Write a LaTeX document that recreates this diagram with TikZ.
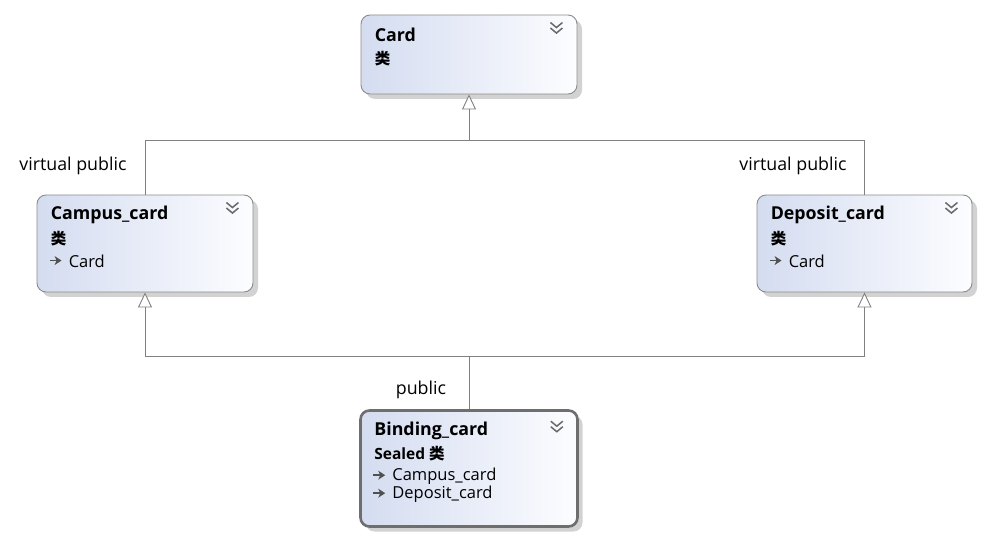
\documentclass[tikz,border=0pt]{standalone}
\usepackage{fontspec}
\setmainfont{Open Sans}
\newfontfamily\cjk{Noto Sans CJK SC}
\usetikzlibrary{arrows.meta,shadows}
\definecolor{boxleft}{RGB}{212,220,240}
\definecolor{boxright}{RGB}{252,253,255}
\definecolor{boxborder}{RGB}{140,140,140}
\definecolor{boldborder}{RGB}{110,110,110}
\definecolor{shadowgray}{RGB}{210,210,210}
\definecolor{linegray}{RGB}{128,128,128}
\definecolor{iconcol}{RGB}{80,80,80}
\begin{document}
\begin{tikzpicture}[x=1pt,y=-1pt,
  classbox/.style={rectangle, rounded corners=9pt, draw=boxborder, line width=0.9pt,
    left color=boxleft, right color=boxright, inner sep=0pt,
    drop shadow={shadow xshift=5pt, shadow yshift=-5pt, fill=shadowgray, opacity=1}},
  sealedbox/.style={classbox, draw=boldborder, line width=2.6pt},
  titletext/.style={anchor=west, inner sep=0pt, font=\fontsize{17.8}{20}\selectfont\bfseries},
  kindtext/.style={anchor=west, inner sep=0pt, font=\fontsize{15.5}{18}\selectfont\bfseries},
  cjktext/.style={anchor=west, inner sep=0pt, font=\fontsize{15.5}{18}\cjk\bfseries},
  membertext/.style={anchor=west, inner sep=0pt, font=\fontsize{16.5}{18}\selectfont},
  edgelabel/.style={inner sep=0pt, font=\fontsize{17.8}{20}\selectfont},
  conn/.style={draw=linegray, line width=0.9pt},
  inherit/.style={conn, -{Triangle[open, length=15pt, width=14pt, fill=white]}},
  memberarrow/.pic={\draw[line width=1.7pt, iconcol] (-6,0)--(2,0);
    \fill[iconcol] (-1,-4.5)--(6,0)--(-1,4.5)--(1,0)--cycle;},
  chevrons/.pic={\draw[line width=1.5pt, iconcol!85] (-6,-5)--(0,0)--(6,-5) (-6,0.5)--(0,5.5)--(6,0.5);}
]
\useasboundingbox (0,0) rectangle (986,540);

% class boxes
\node[classbox, minimum width=216pt, minimum height=79pt] (card) at (469,54.5) {};
\node[classbox, minimum width=216pt, minimum height=97pt] (campus) at (145,243.5) {};
\node[classbox, minimum width=215pt, minimum height=97pt] (deposit) at (864.5,243.5) {};
\node[sealedbox, minimum width=217pt, minimum height=116pt] (binding) at (469,468.5) {};

% Card
\node[titletext] (cardT) at ([shift={(14,20.5)}]card.north west) {Card};
\node[cjktext] (cardK) at ([shift={(14,44)}]card.north west) {类};
\pic at ([shift={(-21,13)}]card.north east) {chevrons};

% Campus_card
\node[titletext] (campusT) at ([shift={(14,20.5)}]campus.north west) {Campus\_card};
\node[cjktext] (campusK) at ([shift={(14,44)}]campus.north west) {类};
\pic at ([shift={(19,66)}]campus.north west) {memberarrow};
\node[membertext] (campusM) at ([shift={(32,66.5)}]campus.north west) {Card};
\pic at ([shift={(-21,13)}]campus.north east) {chevrons};

% Deposit_card
\node[titletext] (depositT) at ([shift={(14,20.5)}]deposit.north west) {Deposit\_card};
\node[cjktext] (depositK) at ([shift={(14,44)}]deposit.north west) {类};
\pic at ([shift={(19,66)}]deposit.north west) {memberarrow};
\node[membertext] (depositM) at ([shift={(32,66.5)}]deposit.north west) {Card};
\pic at ([shift={(-21,13)}]deposit.north east) {chevrons};

% Binding_card
\node[titletext] (bindingT) at ([shift={(15,22)}]binding.north west) {Binding\_card};
\node[kindtext] (bindingK) at ([shift={(15,44)}]binding.north west) {Sealed {\fontsize{15.5}{18}\cjk\bfseries 类}};
\pic at ([shift={(20,66)}]binding.north west) {memberarrow};
\node[membertext] (bindingM1) at ([shift={(33,67)}]binding.north west) {Campus\_card};
\pic at ([shift={(20,84)}]binding.north west) {memberarrow};
\node[membertext] (bindingM2) at ([shift={(33,85)}]binding.north west) {Deposit\_card};
\pic at ([shift={(-22,17)}]binding.north east) {chevrons};

% connectors
\coordinate (jtop) at (469,140);
\coordinate (jbot) at (469,356);
\draw[conn] (campus.north) |- (jtop);
\draw[conn] (deposit.north) |- (jtop);
\draw[inherit] (jtop) -- (card.south);
\draw[conn] (binding.north) -- (jbot);
\draw[inherit] (jbot) -| (campus.south);
\draw[inherit] (jbot) -| (deposit.south);

% labels
\node[edgelabel] (lblL) at (73,166) {virtual public};
\node[edgelabel] (lblR) at (793,166) {virtual public};
\node[edgelabel] (lblB) at (421,390) {public};
\end{tikzpicture}
\end{document}
